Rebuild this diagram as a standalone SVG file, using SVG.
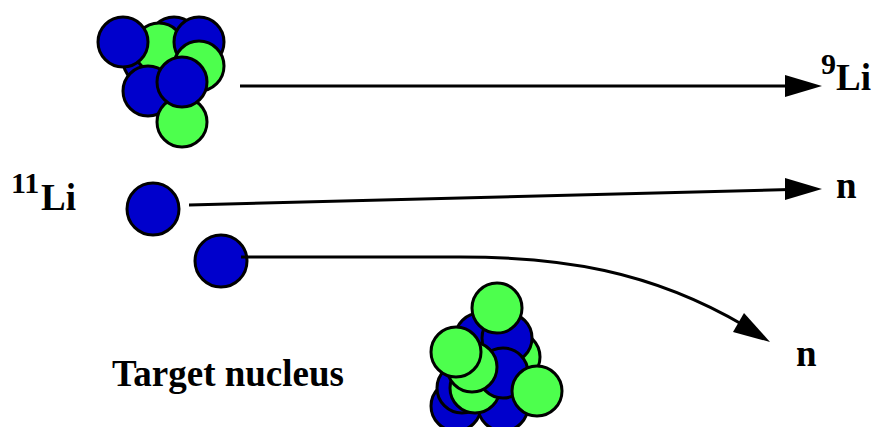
<svg xmlns="http://www.w3.org/2000/svg" width="874" height="427" viewBox="0 0 874 427">
  <style>
    .b { fill: #0000cc; stroke: #000; stroke-width: 3; }
    .g { fill: #4dff4d; stroke: #000; stroke-width: 3; }
    .c { fill: none; stroke: #000; stroke-width: 3; }
    text { font-family: "Liberation Serif", "Times New Roman", serif; font-weight: bold; fill: #000; }
    .big { font-size: 37px; }
    .sup { font-size: 30px; }
  </style>
  <rect width="874" height="427" fill="#fff"/>
  <g id="li9-core">
    <circle class="b" cx="174" cy="42" r="25"/>
    <circle class="b" cx="148" cy="60" r="25"/>
    <circle class="g" cx="159" cy="48" r="25"/>
    <circle class="b" cx="123" cy="42" r="25"/>
    <circle class="b" cx="199" cy="42" r="25"/>
    <circle class="g" cx="199" cy="66" r="25"/>
    <circle class="b" cx="148" cy="91" r="25"/>
    <circle class="g" cx="182" cy="122" r="25"/>
    <circle class="b" cx="182" cy="82" r="25"/>
  </g>
  <g id="neutron-1"><circle class="b" cx="153" cy="209" r="26"/></g>
  <g id="neutron-2"><circle class="b" cx="221" cy="261" r="26"/></g>
  <g id="target-nucleus">
    <circle class="b" cx="456" cy="406" r="25"/>
    <circle class="b" cx="503" cy="406" r="25"/>
    <circle class="b" cx="462" cy="388" r="25"/>
    <circle class="g" cx="515" cy="357" r="25"/>
    <circle class="b" cx="480" cy="338" r="25"/>
    <circle class="b" cx="507" cy="338" r="25"/>
    <circle class="g" cx="475" cy="388" r="25"/>
    <circle class="b" cx="503" cy="373" r="25"/>
    <circle class="g" cx="472" cy="367" r="25"/>
    <circle class="g" cx="537" cy="391" r="25"/>
    <circle class="g" cx="456" cy="352" r="25"/>
    <circle class="g" cx="497" cy="308" r="25"/>
  </g>
  <g id="connectors">
    <line class="c" x1="240" y1="86" x2="790" y2="86"/>
    <polygon points="785,75 822,86 785,97"/>
    <line class="c" x1="189" y1="205" x2="790" y2="189.500"/>
    <polygon points="785,178 822,189 785,200"/>
    <path class="c" d="M241,257 H460 C560,257 650,270 745,326"/>
    <polygon points="744,313 770,342 733,332"/>
  </g>
  <g id="labels">
    <text class="sup" x="821" y="74">9</text>
    <text class="big" x="836" y="90">Li</text>
    <text class="big" x="836" y="198">n</text>
    <text class="sup" x="11" y="193">11</text>
    <text class="big" x="41" y="210">Li</text>
    <text class="big" x="796" y="366">n</text>
    <text class="big" x="112" y="386">Target nucleus</text>
  </g>
</svg>
